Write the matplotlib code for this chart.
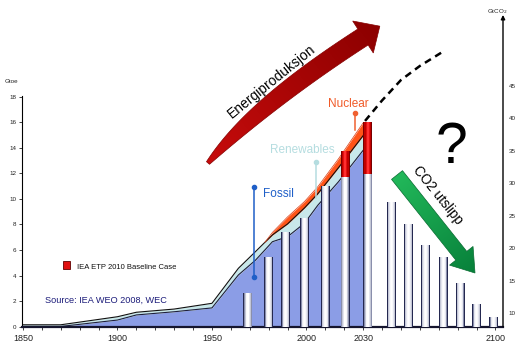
import matplotlib
matplotlib.use("Agg")
import matplotlib.pyplot as plt
import numpy as np
from matplotlib.patches import Polygon, Rectangle
from matplotlib.colors import LinearSegmentedColormap

plt.rcParams['font.family'] = ['Liberation Sans', 'DejaVu Sans']

# world primary energy supply, Gtoe (band thickness per source)
years = [1850, 1870, 1900, 1910, 1930, 1950, 1964, 1973, 1978, 1982, 1990, 1999, 2006, 2017, 2030]
fossil = [0.02, 0.02, 0.52, 0.92, 1.17, 1.47, 4.05, 5.2, 6.0, 6.65, 7.04, 8.1, 9.5, 11.35, 13.8]
renewables = [0.13, 0.13, 0.26, 0.21, 0.21, 0.36, 0.52, 0.67, 0.6, 0.53, 1.0, 1.2, 0.9, 1.1, 1.15]
nuclear = [0, 0, 0, 0, 0, 0, 0, 0, 0, 0.2, 0.55, 0.5, 0.55, 0.7, 1.0]

# energy demand beyond 2030 (dashed)
proj_years = [2031, 2040, 2050, 2060, 2072]
proj_energy = [16.1, 17.7, 19.3, 20.4, 21.5]

# CO2 emissions, GtCO2
co2_years = [1969, 1980, 1989, 1999, 2010, 2020.5, 2032.5, 2045, 2054, 2063, 2072.5, 2081.5, 2090, 2099]
co2 = [13.1, 18.7, 22.5, 24.7, 29.6, 31.0, 31.5, 27.1, 23.8, 20.5, 18.6, 14.7, 11.4, 9.5]

# IEA ETP 2010 baseline case
etp_years = [2020.5, 2032.5]
etp_co2 = [34.9, 39.5]

W, H = 530, 347
fig = plt.figure(figsize=(W / 100, H / 100), dpi=100)
ax = fig.add_axes([22 / W, 20.3 / H, 481 / W, 316.7 / H])
ax.set_xlim(1849.5, 2104)
ax.set_ylim(0, 24.78)

# stacked areas
f = np.array(fossil)
r = f + np.array(renewables)
nu = r + np.array(nuclear)
ax.fill_between(years, 0, f, color='#8b9de6', lw=0)
ax.fill_between(years, f, r, color='#c8e8ea', lw=0)
ax.fill_between(years, r, nu, color='#ff5418', lw=0)
ax.plot(years, f, color='#1e1e3c', lw=0.8)
ax.plot(years, r, color='#111111', lw=0.8)
ax.plot(years[8:], nu[8:], color='#d83a10', lw=0.5)
ax.plot([years[-1], years[-1]], [0, f[-1]], color='#1e1e3c', lw=0.7)

# projection
ax.plot(proj_years, proj_energy, color='black', lw=1.8, dashes=(2.8, 2.0))

# axes styling
for s in ['top', 'right']:
    ax.spines[s].set_visible(False)
ax.spines['left'].set_bounds(0, 18.05)
ax.spines['left'].set_linewidth(0.8)
ax.spines['bottom'].set_linewidth(1.6)
ax.spines['bottom'].set_color('#15152e')
ax.set_yticks(range(0, 19, 2))
ax.tick_params(axis='y', labelsize=4.5, length=2, width=0.6, pad=2, colors='#222222')
ax.set_xticks([1850, 1900, 1950, 2000, 2030, 2100])
ax.set_xticks([y for y in range(1860, 2101, 10) if y not in (1900, 1950, 2000, 2030, 2100)], minor=True)
ax.tick_params(axis='x', which='both', labelsize=6.5, length=2.2, width=0.6, pad=3, colors='#222222')

# CO2 axis
ax2 = ax.twinx()
ax2.set_ylim(7.94, 56.66)
for s in ['top', 'right', 'left', 'bottom']:
    ax2.spines[s].set_visible(False)
ax2.set_yticks(range(10, 46, 5))
ax2.tick_params(axis='y', labelsize=4.5, length=0, pad=4, colors='#222222')
ax2.annotate('', xy=(1, 55.9), xytext=(1, 7.94), xycoords=('axes fraction', 'data'),
             textcoords=('axes fraction', 'data'), annotation_clip=False,
             arrowprops=dict(arrowstyle='-|>', color='black', lw=1.0,
                             mutation_scale=6, shrinkA=0, shrinkB=0))

bar_w = 4.8
white_cols = ['#242850', '#8a8fac', '#c4c7d6', '#e4e5ee', '#f8f8fb', '#ffffff']
red_cols = ['#7a0000', '#c00000', '#e41010', '#ff3030']
for k, c in enumerate(white_cols):
    ax2.bar(co2_years, co2, width=bar_w * (1 - k / len(white_cols)), color=c, lw=0)
etp_base = [co2[co2_years.index(y)] for y in etp_years]
etp_h = np.array(etp_co2) - np.array(etp_base)
for k, c in enumerate(red_cols):
    ax2.bar(etp_years, etp_h, bottom=etp_base, width=bar_w * (1 - k / len(red_cols)), color=c, lw=0)

# source markers
ax2.plot([1972.5, 1972.5], [3.9, 10.9], color='#1f5fc8', lw=1.1, marker='o', ms=3,
         transform=ax.transData)
ax2.plot([2005, 2005], [10.05, 12.9], color='#b5dde0', lw=1.1, transform=ax.transData)
ax2.plot([2005], [12.9], color='#b5dde0', marker='o', ms=3, transform=ax.transData)
ax2.plot([2025.7, 2025.7], [15.4, 16.7], color='#f06030', lw=1.1, transform=ax.transData)
ax2.plot([2025.7], [16.7], color='#f06030', marker='o', ms=3, transform=ax.transData)

# overlay in pixel coordinates for arrows and text
ov = fig.add_axes([0, 0, 1, 1], zorder=5)
ov.set_facecolor('none')
ov.axis('off')


def grad_fill(poly_pts, p_from, p_to, c0, c1, edge):
    poly = Polygon(poly_pts, closed=True, facecolor='none', edgecolor=edge, lw=0.5, zorder=3)
    ov.add_patch(poly)
    x0, y0 = poly_pts.min(axis=0) - 2
    x1, y1 = poly_pts.max(axis=0) + 2
    xs = np.linspace(x0, x1, 200)
    ys = np.linspace(y0, y1, 200)
    X, Y = np.meshgrid(xs, ys)
    d = np.array(p_to) - np.array(p_from)
    v = ((X - p_from[0]) * d[0] + (Y - p_from[1]) * d[1]) / (d @ d)
    cmap = LinearSegmentedColormap.from_list('g', [c0, c1])
    im = ov.imshow(np.clip(v, 0, 1), extent=(x0, x1, y1, y0), origin='upper', cmap=cmap,
                   aspect='auto', interpolation='bilinear', zorder=2)
    im.set_clip_path(poly)


# curved energy arrow
p0, p1, p2 = np.array([208, 163.]), np.array([259, 104.]), np.array([363, 37.])
t = np.linspace(0, 1, 60)[:, None]
cen = (1 - t) ** 2 * p0 + 2 * (1 - t) * t * p1 + t ** 2 * p2
der = 2 * (1 - t) * (p1 - p0) + 2 * t * (p2 - p1)
der /= np.linalg.norm(der, axis=1)[:, None]
nrm = np.column_stack([-der[:, 1], der[:, 0]])
hw = 0.5 * (4 + 15 * (1 - (1 - t) ** 3))
upper = cen - hw * nrm
lower = cen + hw * nrm
B, dB, nB = cen[-1], der[-1], nrm[-1]
head = np.array([B - 19 * nB, B + 20 * dB, B + 19 * nB])
red_pts = np.vstack([upper, head, lower[::-1]])
grad_fill(red_pts, (205, 167), (380, 26), '#c80c0c', '#8c0000', '#850000')

# straight CO2 arrow
T, P = np.array([397, 175.]), np.array([475, 273.])
dg = (P - T) / np.linalg.norm(P - T)
ng = np.array([-dg[1], dg[0]])
Bg = P - 22 * dg
green_pts = np.array([T + 7 * ng, Bg + 7 * ng, Bg + 15 * ng, P, Bg - 15 * ng, Bg - 7 * ng, T - 7 * ng])
grad_fill(green_pts, T, P, '#22b85a', '#07803a', '#076a30')

ov.text(271.5, 81, 'Energiproduksjon', rotation=39, rotation_mode='anchor',
        ha='center', va='center', fontsize=10, color='black')
ov.text(437.5, 195.5, 'CO2 utslipp', rotation=-51, rotation_mode='anchor',
        ha='center', va='center', fontsize=9.8, color='black')
ov.text(451, 163.3, '?', ha='center', va='baseline', fontsize=41, color='black')

ov.text(263.3, 197, 'Fossil', ha='left', va='baseline', fontsize=8.5, color='#1f5fc8')
ov.text(270, 153.3, 'Renewables', ha='left', va='baseline', fontsize=8.5, color='#b5dde0')
ov.text(327.7, 106.7, 'Nuclear', ha='left', va='baseline', fontsize=8.5, color='#f05a28')

ov.add_patch(Rectangle((62.7, 260.7), 7.3, 8.6, facecolor='#e01010', edgecolor='#600000', lw=0.6))
ov.text(76.7, 269, 'IEA ETP 2010 Baseline Case', ha='left', va='baseline', fontsize=5.5, color='#111111')
ov.text(45, 303, 'Source: IEA WEO 2008, WEC', ha='left', va='baseline', fontsize=6.6, color='#1c1c7a')

ov.text(11, 83, 'Gtoe', ha='center', va='baseline', fontsize=4.5, color='#222222')
ov.text(497.5, 13, 'GtCO$_2$', ha='center', va='baseline', fontsize=4.5, color='#222222')

ov.set_xlim(0, W)
ov.set_ylim(H, 0)

fig.savefig('out.png', dpi=100)
